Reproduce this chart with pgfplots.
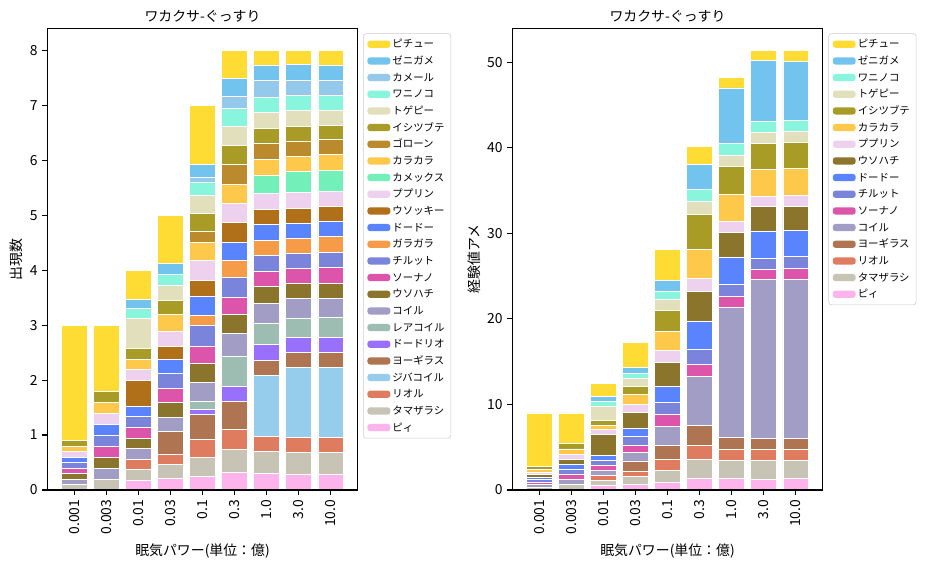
\documentclass[border=0pt]{standalone}
\usepackage{pgfplots}
\usepackage{pgfplotstable}
\pgfplotsset{compat=1.18}
\usepackage{fontspec}
\setmainfont{Noto Sans CJK JP}

\definecolor{cPichu}{HTML}{FFDC33}
\definecolor{cZeni}{HTML}{73C3EF}
\definecolor{cKamel}{HTML}{95C9EC}
\definecolor{cWani}{HTML}{89F5DC}
\definecolor{cTogepi}{HTML}{E2DFBD}
\definecolor{cIshi}{HTML}{A89C26}
\definecolor{cGolo}{HTML}{BA8A2C}
\definecolor{cKara}{HTML}{FEC84A}
\definecolor{cKamex}{HTML}{73EFB9}
\definecolor{cPupu}{HTML}{EDD1EF}
\definecolor{cUsokki}{HTML}{B07019}
\definecolor{cDodo}{HTML}{5A84FE}
\definecolor{cGara}{HTML}{F69C48}
\definecolor{cChiru}{HTML}{7A84DB}
\definecolor{cSonano}{HTML}{DD55AB}
\definecolor{cUsohachi}{HTML}{8B752C}
\definecolor{cCoil}{HTML}{A29DC5}
\definecolor{cRare}{HTML}{9DBDB3}
\definecolor{cDodorio}{HTML}{9870FB}
\definecolor{cYogi}{HTML}{AF7452}
\definecolor{cJiba}{HTML}{96CCEC}
\definecolor{cRioru}{HTML}{DF7B5F}
\definecolor{cTama}{HTML}{C7C4B5}
\definecolor{cPii}{HTML}{FDB4ED}
\definecolor{legframe}{HTML}{CCCCCC}

\pgfplotstableread{
x pii tama rioru jiba yogi dodorio rare coil usohachi sonano chiru gara dodo usokki pupu kamex kara golo ishi togepi wani kamel zeni pichu
0 0 .1 0 0 0 0 0 .1 .1 .1 .1 0 .1 0 .1 0 .1 0 .1 0 0 0 0 2.1
1 0 .2 0 0 0 0 0 .2 .2 .2 .2 0 .2 0 .2 0 .2 0 .2 0 0 0 0 1.2
2 .18 .20 .18 0 0 0 0 .20 .17 .20 .20 0 .19 .48 .19 0 .19 0 .19 .55 .18 0 .17 .53
3 .21 .26 .18 0 .41 0 0 .26 .27 .25 .28 0 .25 .25 .26 0 .31 0 .26 .27 .20 0 .20 .88
4 .24 .35 .33 0 .46 .09 .14 .34 .35 .32 .37 .19 .34 .30 .36 0 .32 .20 .33 .33 .23 .09 .25 1.07
5 .32 .41 .37 0 .51 .27 .55 .42 .34 .31 .37 .31 .32 .37 .34 0 .35 .36 .35 .34 .33 .23 .31 .52
6 .30 .40 .27 1.11 .27 .30 .39 .35 .31 .27 .29 .28 .29 .27 .29 .33 .29 .29 .28 .29 .28 .30 .27 .28
7 .28 .40 .28 1.27 .27 .28 .34 .36 .28 .27 .27 .28 .27 .28 .28 .38 .28 .27 .28 .28 .28 .27 .29 .26
8 .28 .40 .28 1.27 .27 .28 .36 .35 .27 .29 .28 .28 .28 .27 .28 .38 .28 .27 .27 .27 .27 .27 .27 .27
}\ldata

\pgfplotstableread{
x pii tama rioru yogi coil sonano chiru dodo usohachi pupu kara ishi togepi wani zeni pichu
0 0 .3 0 0 .3 .3 .3 .3 .3 .3 .3 .3 0 0 0 6.3
1 0 .6 0 0 .6 .6 .6 .6 .6 .6 .6 .6 0 0 0 3.6
2 .55 .58 .59 0 .55 .61 .58 .58 2.42 .61 .48 .58 1.6 .6 .56 1.52
3 .70 .86 .62 1.21 1.05 .78 1.06 .93 1.83 .98 1.17 .93 .90 .63 .70 2.88
4 .90 1.36 1.29 1.64 2.22 1.40 1.40 1.88 2.80 1.41 2.22 2.45 1.29 .94 1.28 3.59
5 1.33 2.22 1.64 2.33 5.74 1.40 1.79 3.28 3.43 1.56 3.39 4.13 1.48 1.41 2.92 2.1
6 1.33 2.14 1.25 1.44 15.2 1.25 1.41 3.15 2.93 1.28 3.16 3.28 1.32 1.37 6.47 1.25
7 1.21 2.22 1.29 1.28 18.64 1.17 1.25 3.15 2.93 1.21 3.15 3.01 1.32 1.29 7.09 1.17
8 1.33 2.10 1.29 1.28 18.64 1.29 1.36 3.08 2.77 1.32 3.16 3.00 1.29 1.25 6.94 1.28
}\rdata

\newcommand{\bp}[3]{\addplot[fill=#1, draw=white, line width=0.6pt] table[x=x, y=#2]{#3};}

\pgfplotsset{
  myaxis/.style={
    ybar stacked,
    bar width=0.8,
    scale only axis,
    width=223.5pt, height=332.4pt,
    xmin=-0.84, xmax=8.84, ymin=0,
    xtick={0,...,8},
    xticklabels={0.001,0.003,0.01,0.03,0.1,0.3,1.0,3.0,10.0},
    xticklabel style={rotate=90, anchor=east, font=\fontsize{10}{12}\selectfont},
    yticklabel style={font=\fontsize{10}{12}\selectfont},
    /pgf/number format/assume math mode=true,
    tick align=outside, xtick pos=left, ytick pos=left,
    major tick length=3.5pt,
    tick style={black, line width=0.8pt},
    axis line style={line width=0.8pt},
    after end axis/.code={\draw[black, line width=0.8pt] (rel axis cs:0,0) rectangle (rel axis cs:1,1);},
    title={ワカクサ-ぐっすり},
    title style={font=\fontsize{10}{12}\selectfont, yshift=-5.5pt},
    xlabel={眠気パワー(単位：億)},
    label style={font=\fontsize{10}{12}\selectfont},
    ylabel style={yshift=-2pt},
    reverse legend,
    legend cell align=left,
    legend image code/.code={\path[#1, draw=none] (0pt,-2.6pt) rectangle (16.5pt,2.6pt);},
    legend style={anchor=north west, draw=legframe, rounded corners=2pt,
      font=\fontsize{7.5}{9}\selectfont, row sep=0.8pt, inner xsep=3pt, inner ysep=2pt,
      nodes={inner sep=1.5pt, text height=6.6pt, text depth=1.6pt}},
  }
}

\begin{document}
\begin{tikzpicture}
\useasboundingbox (-34.06pt,-56.16pt) rectangle (637.7pt,352.8pt);
\begin{axis}[myaxis, at={(0pt,0pt)}, anchor=south west,
  ymax=8.4, ytick={0,...,8}, ylabel={出現数},
  legend style={at={(1.017,0.989)}}]
\bp{cPii}{pii}{\ldata}\addlegendentry{ピィ}
\bp{cTama}{tama}{\ldata}\addlegendentry{タマザラシ}
\bp{cRioru}{rioru}{\ldata}\addlegendentry{リオル}
\bp{cJiba}{jiba}{\ldata}\addlegendentry{ジバコイル}
\bp{cYogi}{yogi}{\ldata}\addlegendentry{ヨーギラス}
\bp{cDodorio}{dodorio}{\ldata}\addlegendentry{ドードリオ}
\bp{cRare}{rare}{\ldata}\addlegendentry{レアコイル}
\bp{cCoil}{coil}{\ldata}\addlegendentry{コイル}
\bp{cUsohachi}{usohachi}{\ldata}\addlegendentry{ウソハチ}
\bp{cSonano}{sonano}{\ldata}\addlegendentry{ソーナノ}
\bp{cChiru}{chiru}{\ldata}\addlegendentry{チルット}
\bp{cGara}{gara}{\ldata}\addlegendentry{ガラガラ}
\bp{cDodo}{dodo}{\ldata}\addlegendentry{ドードー}
\bp{cUsokki}{usokki}{\ldata}\addlegendentry{ウソッキー}
\bp{cPupu}{pupu}{\ldata}\addlegendentry{ププリン}
\bp{cKamex}{kamex}{\ldata}\addlegendentry{カメックス}
\bp{cKara}{kara}{\ldata}\addlegendentry{カラカラ}
\bp{cGolo}{golo}{\ldata}\addlegendentry{ゴローン}
\bp{cIshi}{ishi}{\ldata}\addlegendentry{イシツブテ}
\bp{cTogepi}{togepi}{\ldata}\addlegendentry{トゲピー}
\bp{cWani}{wani}{\ldata}\addlegendentry{ワニノコ}
\bp{cKamel}{kamel}{\ldata}\addlegendentry{カメール}
\bp{cZeni}{zeni}{\ldata}\addlegendentry{ゼニガメ}
\bp{cPichu}{pichu}{\ldata}\addlegendentry{ピチュー}
\end{axis}
\begin{axis}[myaxis, at={(334.8pt,0pt)}, anchor=south west,
  ymax=53.95, ytick={0,10,...,50}, ylabel={経験値アメ},
  legend style={at={(1.018,0.989)}}]
\bp{cPii}{pii}{\rdata}\addlegendentry{ピィ}
\bp{cTama}{tama}{\rdata}\addlegendentry{タマザラシ}
\bp{cRioru}{rioru}{\rdata}\addlegendentry{リオル}
\bp{cYogi}{yogi}{\rdata}\addlegendentry{ヨーギラス}
\bp{cCoil}{coil}{\rdata}\addlegendentry{コイル}
\bp{cSonano}{sonano}{\rdata}\addlegendentry{ソーナノ}
\bp{cChiru}{chiru}{\rdata}\addlegendentry{チルット}
\bp{cDodo}{dodo}{\rdata}\addlegendentry{ドードー}
\bp{cUsohachi}{usohachi}{\rdata}\addlegendentry{ウソハチ}
\bp{cPupu}{pupu}{\rdata}\addlegendentry{ププリン}
\bp{cKara}{kara}{\rdata}\addlegendentry{カラカラ}
\bp{cIshi}{ishi}{\rdata}\addlegendentry{イシツブテ}
\bp{cTogepi}{togepi}{\rdata}\addlegendentry{トゲピー}
\bp{cWani}{wani}{\rdata}\addlegendentry{ワニノコ}
\bp{cZeni}{zeni}{\rdata}\addlegendentry{ゼニガメ}
\bp{cPichu}{pichu}{\rdata}\addlegendentry{ピチュー}
\end{axis}
\end{tikzpicture}
\end{document}
